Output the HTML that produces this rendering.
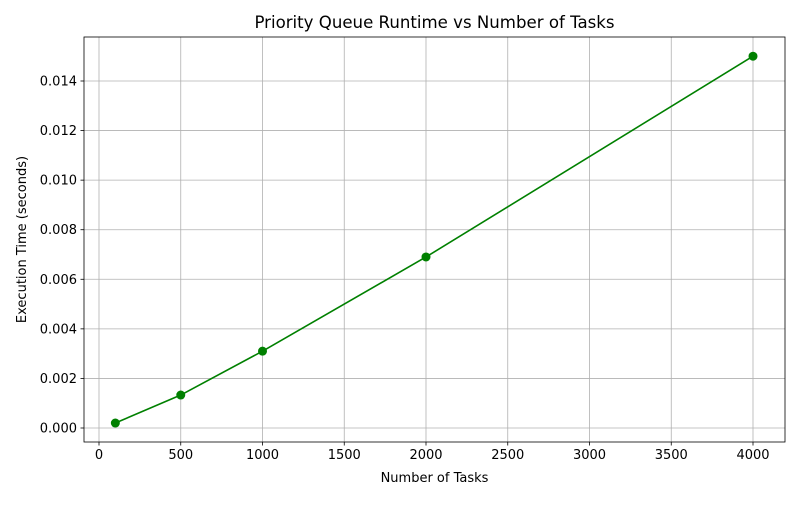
<!DOCTYPE html>
<html><head><meta charset="utf-8"><style>
body{margin:0;background:#fff;font-family:"Liberation Sans","DejaVu Sans",sans-serif;}
svg text{font-family:"DejaVu Sans","Liberation Sans",sans-serif;}
</style></head><body>
<svg id="chart" width="800" height="500">
<rect x="0" y="0" width="800" height="500" fill="#fff"/>
<g id="grid"></g>
<g id="ticks"></g>
<g id="series"></g>
<rect x="84" y="37" width="701" height="405" fill="none" stroke="#000" stroke-width="0.8"/>
<text x="434.5" y="28" font-size="16.6" text-anchor="middle">Priority Queue Runtime vs Number of Tasks</text>
<text x="434.5" y="482" font-size="13" text-anchor="middle">Number of Tasks</text>
<text x="26" y="239.5" font-size="13" text-anchor="middle" transform="rotate(-90 26 239.5)">Execution Time (seconds)</text>
</svg>
<script>
const tasks=[100,500,1000,2000,4000];
const runtimes=[0.0002,0.00133,0.0031,0.0069,0.0150];
const xTicks=[0,500,1000,1500,2000,2500,3000,3500,4000];
const yTicks=[0,0.002,0.004,0.006,0.008,0.010,0.012,0.014];
const NS="http://www.w3.org/2000/svg";
function xs(v){return 99+v*(753-99)/4000;}
function ys(v){return 428-v*(428-81)/0.014;}
function mk(t,a,p){const e=document.createElementNS(NS,t);for(const k in a)e.setAttribute(k,a[k]);p.appendChild(e);return e;}
const grid=document.getElementById('grid'),ticks=document.getElementById('ticks'),series=document.getElementById('series');
xTicks.forEach(v=>{const x=xs(v);
 const g=mk('line',{x1:x,x2:x,y1:37,y2:442,stroke:'#b0b0b0','stroke-width':0.8},grid);
 
 
 mk('line',{x1:x,x2:x,y1:442,y2:445.5,stroke:'#000','stroke-width':0.8},ticks);
 const t=mk('text',{x:x,y:459,'font-size':13,'text-anchor':'middle'},ticks);t.textContent=v;
 
 
});
yTicks.forEach(v=>{const y=ys(v);
 const g=mk('line',{x1:84,x2:785,y1:y,y2:y,stroke:'#b0b0b0','stroke-width':0.8},grid);
 
 
 mk('line',{x1:80.5,x2:84,y1:y,y2:y,stroke:'#000','stroke-width':0.8},ticks);
 const t=mk('text',{x:77,y:y+4.5,'font-size':13,'text-anchor':'end'},ticks);t.textContent=v.toFixed(3);
 
 
});
const pl=mk('polyline',{points:tasks.map((t,i)=>xs(t)+','+ys(runtimes[i])).join(' '),fill:'none',stroke:'#008000','stroke-width':1.6},series);


tasks.forEach((t,i)=>{const c=mk('circle',{cx:xs(t),cy:ys(runtimes[i]),r:4.5,fill:'#008000'},series);
 
 
});
</script>
</body></html>
